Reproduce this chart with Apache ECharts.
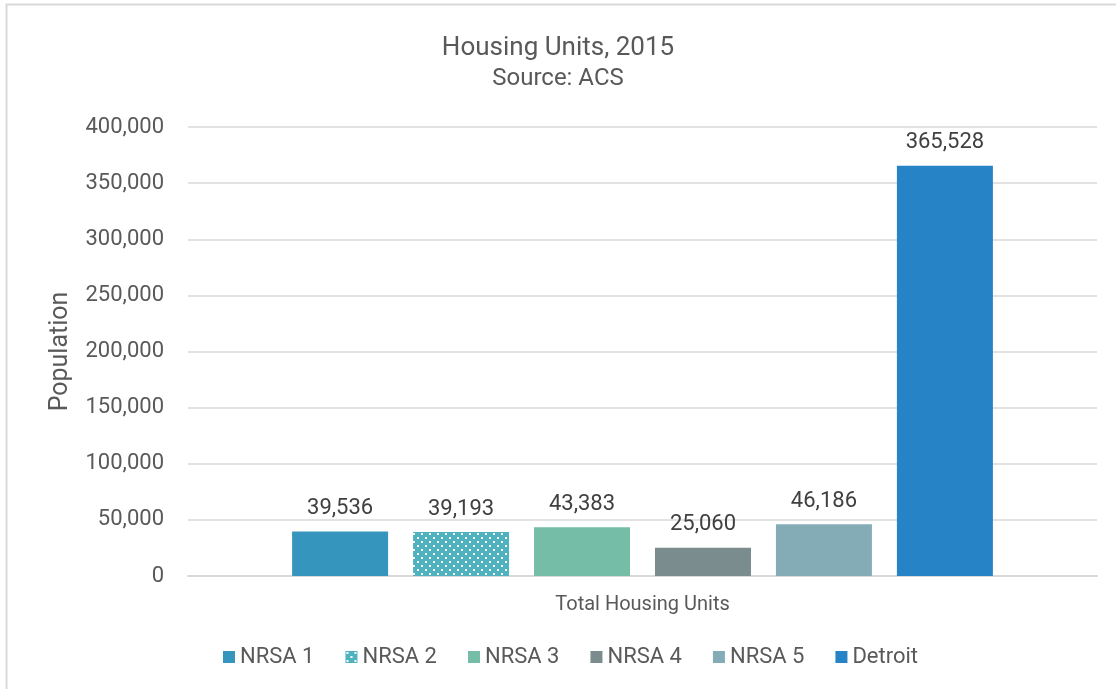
<!DOCTYPE html>
<html>
<head>
<meta charset="utf-8">
<script src="https://cdn.jsdelivr.net/npm/echarts@6/dist/echarts.min.js"></script>
<style>
  html, body { margin: 0; padding: 0; background: #fff; }
  #main { width: 1116px; height: 689px; }
</style>
</head>
<body>
<div id="main"></div>
<script>
// data
var categories = ['Total Housing Units'];
var seriesNames = ['NRSA 1', 'NRSA 2', 'NRSA 3', 'NRSA 4', 'NRSA 5', 'Detroit'];
var seriesValues = [39536, 39193, 43383, 25060, 46186, 365528];
var colors = ['#3595BC', '#4FB3BF', '#75BDA7', '#7A8C8E', '#84ACB6', '#2683C6'];

// dotted fill for NRSA 2
function dotPattern(bg) {
    var c = document.createElement('canvas');
    c.width = 8;
    c.height = 8;
    var ctx = c.getContext('2d');
    ctx.fillStyle = bg;
    ctx.fillRect(0, 0, 8, 8);
    ctx.fillStyle = '#ffffff';
    ctx.fillRect(1, 1, 2, 2);
    ctx.fillRect(5, 5, 2, 2);
    return { image: c, repeat: 'repeat' };
}

var FONT = 'Roboto, "DejaVu Sans", sans-serif';
var seriesList = [];
for (var i = 0; i < seriesNames.length; i++) {
    var fill = i === 1 ? dotPattern(colors[i]) : colors[i];
    seriesList.push({
        name: seriesNames[i],
        type: 'bar',
        barWidth: 96,
        barGap: '26%',
        data: [seriesValues[i]],
        itemStyle: { color: fill },
        label: {
            show: true,
            position: 'top',
            distance: 12,
            color: '#404040',
            fontSize: 22,
            fontFamily: FONT,
            formatter: function (p) { return p.value.toLocaleString('en-US'); }
        }
    });
}

var chart = echarts.init(document.getElementById('main'));
var option = {
    animation: false,
    color: colors,
    textStyle: { fontFamily: FONT },
    title: {
        text: 'Housing Units, 2015',
        subtext: 'Source: ACS',
        left: 'center',
        top: 30,
        itemGap: 6,
        textStyle: { fontSize: 26, fontWeight: 'normal', color: '#595959', fontFamily: FONT },
        subtextStyle: { fontSize: 24, color: '#595959', fontFamily: FONT }
    },
    graphic: [{
        type: 'rect',
        shape: { x: 6.5, y: 4.5, width: 1300, height: 900 },
        style: { fill: 'none', stroke: '#D9D9D9', lineWidth: 2 },
        silent: true
    }],
    legend: {
        data: seriesNames,
        bottom: 16,
        left: 218,
        itemWidth: 12,
        itemHeight: 12,
        itemGap: 31,
        icon: 'rect',
        textStyle: { fontSize: 22, color: '#595959', fontFamily: FONT }
    },
    grid: { left: 188, right: 19, top: 127, bottom: 113 },
    xAxis: {
        type: 'category',
        data: categories,
        axisLine: { lineStyle: { color: '#D9D9D9', width: 2 } },
        axisTick: { show: false },
        axisLabel: { fontSize: 20, color: '#595959', margin: 19, fontFamily: FONT }
    },
    yAxis: {
        type: 'value',
        min: 0,
        max: 400000,
        interval: 50000,
        name: 'Population',
        nameLocation: 'middle',
        nameGap: 115,
        nameTextStyle: { fontSize: 25, color: '#595959', fontFamily: FONT },
        axisLine: { show: false },
        axisTick: { show: false },
        axisLabel: {
            fontSize: 22,
            color: '#595959',
            margin: 24,
            fontFamily: FONT,
            formatter: function (v) { return v.toLocaleString('en-US'); }
        },
        splitLine: { lineStyle: { color: '#D9D9D9', width: 1.5 } }
    },
    series: seriesList
};
chart.setOption(option);
</script>
</body>
</html>
